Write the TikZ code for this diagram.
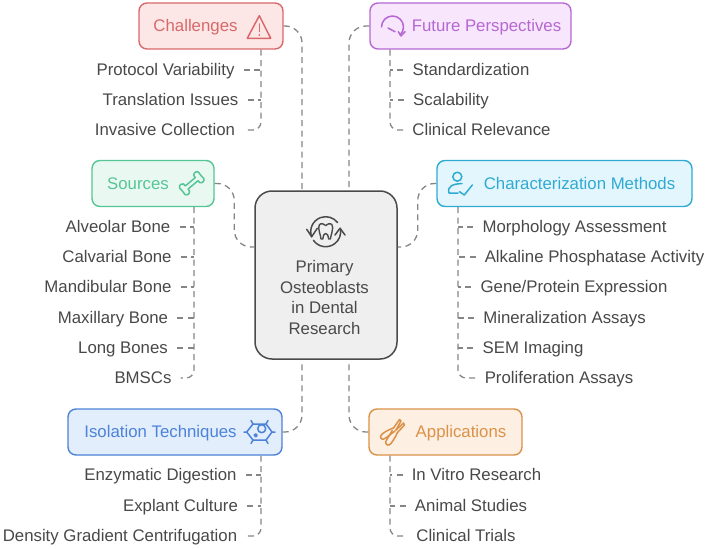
\documentclass[tikz,border=0pt]{standalone}
\usepackage{fontspec}
\setmainfont{Liberation Sans}
\usepackage{xcolor}
\definecolor{vizChallenges}{HTML}{D9686A}
\definecolor{vizChallengesBg}{HTML}{FDE7E6}
\definecolor{vizFuture}{HTML}{B568D2}
\definecolor{vizFutureBg}{HTML}{F7E6FC}
\definecolor{vizSources}{HTML}{55C596}
\definecolor{vizSourcesBg}{HTML}{E9F9F2}
\definecolor{vizMethods}{HTML}{2FAAD2}
\definecolor{vizMethodsBg}{HTML}{E4F6FD}
\definecolor{vizIsolation}{HTML}{4C82D8}
\definecolor{vizIsolationBg}{HTML}{E3EEFD}
\definecolor{vizApplications}{HTML}{DB9148}
\definecolor{vizApplicationsBg}{HTML}{FDF0E2}
\definecolor{vizCenter}{HTML}{4A4A4A}
\definecolor{vizCenterBg}{HTML}{EFEFEF}
\definecolor{vizLink}{HTML}{858585}
\definecolor{vizLeaf}{HTML}{484848}
\tikzset{
  topicbox/.style={rounded corners=8pt, line width=1.4pt, inner sep=0pt, minimum height=46pt},
  topictext/.style={inner sep=0pt, text height=13pt, text depth=2pt, font=\fontsize{16.8}{18}\selectfont},
  leafnode/.style={inner xsep=9pt, inner ysep=0pt, text height=13pt, text depth=2pt, text=vizLeaf, font=\fontsize{16.8}{18}\selectfont},
  mainlink/.style={draw=vizLink, line width=1.3pt, dash pattern=on 6pt off 4.5pt, rounded corners=17pt},
  leaflink/.style={draw=vizLink, line width=1.3pt, dash pattern=on 6pt off 4.5pt, rounded corners=8pt},
  icon/.style={line width=1.5pt, line cap=round, line join=round},
}

\begin{document}
\begin{tikzpicture}[x=1pt, y=1pt]
  \useasboundingbox (0,0) rectangle (708,-548);
  % central box
  \node[rounded corners=17pt, line width=1.5pt, draw=vizCenter, fill=vizCenterBg, minimum width=142pt, minimum height=168pt] (center) at (326,-275) {};
  \node[inner sep=0pt, align=center, text=vizCenter, font=\fontsize{16.8}{20.4}\selectfont] (centerText) at (324.5,-297.5) {Primary\\Osteoblasts\\in Dental\\Research};
  % topic boxes
  \node[topicbox, draw=vizChallenges, fill=vizChallengesBg, minimum width=144pt] (challenges) at (211,-26) {};
  \node[topictext, text=vizChallenges] (challengesText) at (195.5,-26) {Challenges};
  \node[topicbox, draw=vizFuture, fill=vizFutureBg, minimum width=201pt] (future) at (470.5,-26) {};
  \node[topictext, text=vizFuture] (futureText) at (486.5,-26) {Future Perspectives};
  \node[topicbox, draw=vizSources, fill=vizSourcesBg, minimum width=122pt] (sources) at (153,-183.5) {};
  \node[topictext, text=vizSources] (sourcesText) at (138,-183.5) {Sources};
  \node[topicbox, draw=vizMethods, fill=vizMethodsBg, minimum width=255pt] (methods) at (564.5,-183.5) {};
  \node[topictext, text=vizMethods] (methodsText) at (579.5,-183.5) {Characterization Methods};
  \node[topicbox, draw=vizIsolation, fill=vizIsolationBg, minimum width=214pt] (isolation) at (175,-432) {};
  \node[topictext, text=vizIsolation] (isolationText) at (160.5,-432) {Isolation Techniques};
  \node[topicbox, draw=vizApplications, fill=vizApplicationsBg, minimum width=153pt] (applications) at (445.5,-432) {};
  \node[topictext, text=vizApplications] (applicationsText) at (461,-432) {Applications};
  % leaves
  \node[leafnode] (protocol) at (165.5,-70) {Protocol Variability};
  \node[leafnode] (translation) at (170.5,-100) {Translation Issues};
  \node[leafnode] (invasive) at (165,-130) {Invasive Collection};
  \node[leafnode] (standard) at (471,-70) {Standardization};
  \node[leafnode] (scalability) at (451,-100) {Scalability};
  \node[leafnode] (relevance) at (481.5,-130) {Clinical Relevance};
  \node[leafnode] (alveolar) at (118,-227) {Alveolar Bone};
  \node[leafnode] (calvarial) at (117,-257) {Calvarial Bone};
  \node[leafnode] (mandibular) at (108,-287) {Mandibular Bone};
  \node[leafnode] (maxillary) at (113,-318) {Maxillary Bone};
  \node[leafnode] (longbones) at (123,-348) {Long Bones};
  \node[leafnode] (bmscs) at (143,-378) {BMSCs};
  \node[leafnode] (morphology) at (574.5,-227) {Morphology Assessment};
  \node[leafnode] (alkaline) at (594.5,-257) {Alkaline Phosphatase Activity};
  \node[leafnode] (expression) at (574,-287) {Gene/Protein Expression};
  \node[leafnode] (mineral) at (564.5,-318) {Mineralization Assays};
  \node[leafnode] (sem) at (533,-348) {SEM Imaging};
  \node[leafnode] (prolif) at (559,-378) {Proliferation Assays};
  \node[leafnode] (enzymatic) at (160.5,-475) {Enzymatic Digestion};
  \node[leafnode] (explant) at (180.5,-506) {Explant Culture};
  \node[leafnode] (density) at (120,-536) {Density Gradient Centrifugation};
  \node[leafnode] (vitro) at (476.5,-475) {In Vitro Research};
  \node[leafnode] (animal) at (471,-506) {Animal Studies};
  \node[leafnode] (trials) at (466,-536) {Clinical Trials};
  % links to the centre
  \draw[mainlink] (challenges.east) -| ([xshift=-24pt]center.north);
  \draw[mainlink] (future.west) -| ([xshift=23pt]center.north);
  \draw[mainlink] (sources.east) -| ([shift={(-20pt,28pt)}]center.west) -- ([yshift=28pt]center.west);
  \draw[mainlink] (methods.west) -| ([shift={(20pt,28pt)}]center.east) -- ([yshift=28pt]center.east);
  \draw[mainlink] (isolation.east) -| ([xshift=-24pt]center.south);
  \draw[mainlink] (applications.west) -| ([xshift=23pt]center.south);
  % trunks under the topic boxes
  \coordinate (challengesTrunk) at ([xshift=50pt]challenges.south);
  \coordinate (futureTrunk) at ([xshift=-80.5pt]future.south);
  \coordinate (sourcesTrunk) at ([xshift=41pt]sources.south);
  \coordinate (methodsTrunk) at ([xshift=-106.5pt]methods.south);
  \coordinate (isolationTrunk) at ([xshift=86pt]isolation.south);
  \coordinate (applicationsTrunk) at ([xshift=-55.5pt]applications.south);
  \draw[leaflink] (challengesTrunk) |- (invasive.east);
  \draw[leaflink] (futureTrunk) |- (relevance.west);
  \draw[leaflink] (sourcesTrunk) |- (bmscs.east);
  \draw[leaflink] (methodsTrunk) |- (prolif.west);
  \draw[leaflink] (isolationTrunk) |- (density.east);
  \draw[leaflink] (applicationsTrunk) |- (trials.west);
  % stubs to the leaves
  \draw[leaflink] (protocol.east) -- (protocol.east -| challengesTrunk);
  \draw[leaflink] (translation.east) -- (translation.east -| challengesTrunk);
  \draw[leaflink] (standard.west) -- (standard.west -| futureTrunk);
  \draw[leaflink] (scalability.west) -- (scalability.west -| futureTrunk);
  \draw[leaflink] (alveolar.east) -- (alveolar.east -| sourcesTrunk);
  \draw[leaflink] (calvarial.east) -- (calvarial.east -| sourcesTrunk);
  \draw[leaflink] (mandibular.east) -- (mandibular.east -| sourcesTrunk);
  \draw[leaflink] (maxillary.east) -- (maxillary.east -| sourcesTrunk);
  \draw[leaflink] (longbones.east) -- (longbones.east -| sourcesTrunk);
  \draw[leaflink] (morphology.west) -- (morphology.west -| methodsTrunk);
  \draw[leaflink] (alkaline.west) -- (alkaline.west -| methodsTrunk);
  \draw[leaflink] (expression.west) -- (expression.west -| methodsTrunk);
  \draw[leaflink] (mineral.west) -- (mineral.west -| methodsTrunk);
  \draw[leaflink] (sem.west) -- (sem.west -| methodsTrunk);
  \draw[leaflink] (enzymatic.east) -- (enzymatic.east -| isolationTrunk);
  \draw[leaflink] (explant.east) -- (explant.east -| isolationTrunk);
  \draw[leaflink] (vitro.west) -- (vitro.west -| applicationsTrunk);
  \draw[leaflink] (animal.west) -- (animal.west -| applicationsTrunk);
  % warning icon
  \draw[icon, vizChallenges] (259.3,-15.7) -- (247.3,-38.3) -- (270.7,-38.3) -- cycle;
  \draw[icon, vizChallenges] (259.3,-24) -- (259.3,-31.5);
  \fill[vizChallenges] (259.3,-35) circle (1pt);
  % turning arrow icon
  \draw[icon, vizFuture] (381.5,-27) arc[start angle=180, end angle=-45, radius=11pt];
  \draw[icon, vizFuture] (398.3,-31.7) -- (401,-36) -- (405,-31.7);
  \draw[icon, vizFuture] (388,-28) -- (395,-31.7);
  % bone icon
  \begin{scope}[shift={(191.7,-183.3)}, rotate=40, scale=0.9]
    \draw[icon, vizSources] (-7.2,2.3) -- (7.2,2.3) arc[start angle=200, end angle=-30, radius=3.5] -- (13.5,-1.75) arc[start angle=30, end angle=-200, radius=3.5] -- (-7.2,-2.3) arc[start angle=20, end angle=-210, radius=3.5] -- (-13.5,1.75) arc[start angle=210, end angle=-20, radius=3.5] -- cycle;
  \end{scope}
  % person with check icon
  \draw[icon, vizMethods] (457.3,-176.7) circle (4.5pt);
  \draw[icon, vizMethods] (458,-193) -- (449,-193) .. controls (447,-186) and (453,-184) .. (462,-183.5);
  \draw[icon, vizMethods] (459.5,-191.7) -- (464.3,-195) -- (472.3,-185);
  % cell icon
  \draw[icon, vizIsolation] (246.7,-432) -- (253,-424) -- (266,-424) -- (272,-432) -- (266,-440) -- (253,-440) -- cycle;
  \draw[icon, vizIsolation] (253,-424) -- (251,-420.5) (266,-424) -- (268,-420.5) (272,-432) -- (275,-432) (246.7,-432) -- (244,-432) (253,-440) -- (251,-443.5) (266,-440) -- (268,-443.5);
  \draw[icon, vizIsolation] (261.7,-428.7) circle (4pt);
  \draw[icon, vizIsolation] (255.7,-435.3) circle (1.5pt);
  % pliers icon
  \draw[icon, vizApplications] (394,-427.7) .. controls (388,-430) and (382,-433) .. (380.7,-436) .. controls (380,-439.5) and (383,-440) .. (385.7,-438) -- (395,-431);
  \draw[icon, vizApplications] (392.3,-430.3) .. controls (390,-435) and (386.5,-439) .. (385.7,-442) .. controls (385.5,-445.5) and (389,-446) .. (391,-443.5) .. controls (393.5,-440) and (396,-436) .. (397.3,-432.7);
  \draw[icon, vizApplications] (393.5,-428) -- (399.5,-419.5) -- (401,-421) -- (396,-430);
  \draw[icon, vizApplications] (396,-430) -- (403.5,-423) -- (404.5,-425) -- (397.3,-432.7);
  % tooth icon
  \draw[line width=1.4pt, line join=round, vizCenter] (325.7,-225.5) .. controls (322,-222.5) and (318.7,-223) .. (318.7,-228) .. controls (318.7,-232) and (320.5,-234) .. (321,-239) -- (322.8,-239) .. controls (323.5,-235) and (324,-233.5) .. (325.7,-233.5) .. controls (327.4,-233.5) and (328,-235) .. (328.6,-239) -- (330.4,-239) .. controls (331,-234) and (332.7,-232) .. (332.7,-228) .. controls (332.7,-223) and (329.4,-222.5) .. (325.7,-225.5) -- cycle;
  \draw[icon, vizCenter] (325.7,-231.7) ++(200:15pt) arc[start angle=200, end angle=37, radius=15pt];
  \draw[icon, vizCenter] (325.7,-231.7) ++(215:15pt) arc[start angle=215, end angle=373, radius=15pt];
  \draw[icon, vizCenter] (306.7,-229.3) -- (311.7,-236.7) -- (317.3,-228.3);
  \draw[icon, vizCenter] (335,-235) -- (340,-228.3) -- (345,-235);
\end{tikzpicture}
\end{document}
